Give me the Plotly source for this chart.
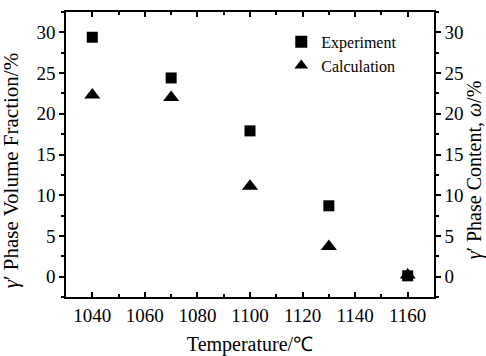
import plotly.graph_objects as go

temperature = [1040, 1070, 1100, 1130, 1160]
experiment = [29.4, 24.4, 17.9, 8.7, 0.1]
calculation = [22.3, 22.0, 11.1, 3.7, 0.2]

FONT = "Liberation Serif"

fig = go.Figure()
fig.add_trace(go.Scatter(x=temperature, y=experiment, mode="markers", name="Experiment",
                         marker=dict(symbol="square", size=11, color="black")))
fig.add_trace(go.Scatter(x=temperature, y=calculation, mode="markers", name="Calculation",
                         marker=dict(symbol="triangle-up", size=14, color="black")))
# invisible trace for the right axis
fig.add_trace(go.Scatter(x=[temperature[0]], y=[experiment[0]], yaxis="y2", mode="markers",
                         marker=dict(opacity=0), showlegend=False, hoverinfo="skip"))

fig.update_layout(
    width=486, height=356,
    margin=dict(l=66, r=52, t=12, b=59, autoexpand=False),
    paper_bgcolor="white", plot_bgcolor="white",
    font=dict(family=FONT, color="black", size=18),
    showlegend=True,
    legend=dict(x=0.585, y=0.955, xanchor="left", yanchor="top", bgcolor="rgba(0,0,0,0)",
                font=dict(size=16, family=FONT), itemsizing="constant", tracegroupgap=0),
    xaxis=dict(range=[1030, 1170], tickmode="linear", tick0=1040, dtick=20,
               ticks="inside", ticklen=5, tickwidth=1.5, tickcolor="black",
               showline=True, linecolor="black", linewidth=1.5, mirror="ticks",
               showgrid=False, zeroline=False, automargin=False,
               minor=dict(ticks="inside", ticklen=3, dtick=10, tick0=1030, tickcolor="black", showgrid=False),
               tickfont=dict(size=19, family=FONT),
               title=dict(text="Temperature/℃", font=dict(size=20, family=FONT), standoff=14)),
    yaxis=dict(range=[-2.5, 32.5], tickmode="linear", tick0=0, dtick=5,
               ticks="outside", ticklen=5, tickwidth=1.5, tickcolor="black",
               showline=True, linecolor="black", linewidth=1.5, mirror=False,
               showgrid=False, zeroline=False, automargin=False,
               minor=dict(ticks="outside", ticklen=3, dtick=2.5, tick0=0, tickcolor="black", showgrid=False),
               tickfont=dict(size=19, family=FONT)),
    yaxis2=dict(range=[-2.5, 32.5], overlaying="y", side="right", tickmode="linear", tick0=0, dtick=5,
                ticks="outside", ticklen=5, tickwidth=1.5, tickcolor="black",
                showline=True, linecolor="black", linewidth=1.5,
                showgrid=False, zeroline=False, automargin=False,
                minor=dict(ticks="outside", ticklen=3, dtick=2.5, tick0=0, tickcolor="black", showgrid=False),
                tickfont=dict(size=19, family=FONT)),
    annotations=[
        dict(text="<i>γ</i>′ Phase Volume Fraction/%", xref="paper", yref="paper",
             x=-0.149, y=0.445, xanchor="center", yanchor="middle", textangle=-90,
             showarrow=False, font=dict(size=21, family=FONT)),
        dict(text="<i>γ</i>′ Phase Content, <i>ω</i>/%", xref="paper", yref="paper",
             x=1.109, y=0.445, xanchor="center", yanchor="middle", textangle=-90,
             showarrow=False, font=dict(size=20, family=FONT)),
    ],
)

fig.write_html("out.html", config={"displayModeBar": False},
               post_script="document.body.style.margin='0';")
